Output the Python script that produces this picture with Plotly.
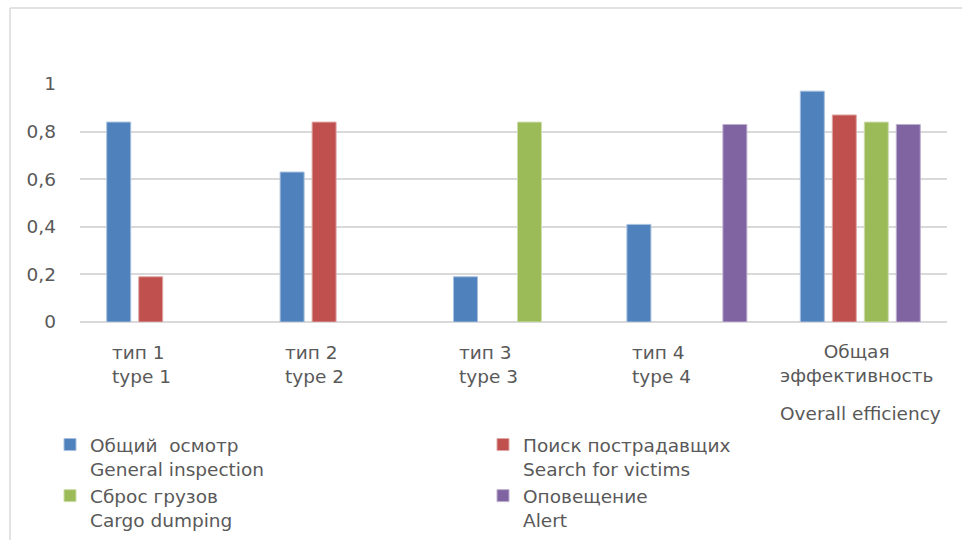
import plotly.graph_objects as go

categories = ["type 1", "type 2", "type 3", "type 4", "overall"]
cat_ru = ["тип 1", "тип 2", "тип 3", "тип 4", "Общая<br>эффективность"]
cat_en = ["type 1", "type 2", "type 3", "type 4", "Overall efficiency"]

series_names = [
    "Общий  осмотр<br>General inspection",
    "Поиск пострадавщих<br>Search for victims",
    "Сброс грузов<br>Cargo dumping",
    "Оповещение<br>Alert",
]
general = [0.84, 0.63, 0.19, 0.41, 0.97]
victims = [0.19, 0.84, None, None, 0.87]
cargo = [None, None, 0.84, None, 0.84]
alert = [None, None, None, 0.83, 0.83]
series_values = [general, victims, cargo, alert]
colors = ["#4F81BD", "#C0504D", "#9BBB59", "#8064A2"]
edges = ["#A7C0DE", "#DFA7A6", "#CDDDAC", "#BFB1D0"]

yticks = [0, 0.2, 0.4, 0.6, 0.8, 1]
yticktext = ["0", "0,2", "0,4", "0,6", "0,8", "1"]

FONT = "DejaVu Sans, sans-serif"
FS = 18.5
TXT = "#595959"

fig = go.Figure()
for name, vals, c, e in zip(series_names, series_values, colors, edges):
    fig.add_trace(go.Bar(x=categories, y=vals, name=name,
                         marker=dict(color=c, line=dict(color=e, width=1))))

# category labels
for i, cat in enumerate(categories):
    if i < 4:
        fig.add_annotation(x=cat, y=0, xref="x", yref="y", yanchor="top",
                           xanchor="left", xshift=-57, yshift=-18,
                           text=cat_ru[i] + "<br>" + cat_en[i], align="left",
                           showarrow=False, font=dict(family=FONT, size=FS, color=TXT))
    else:
        fig.add_annotation(x=cat, y=0, xref="x", yref="y", yanchor="top",
                           xanchor="center", xshift=-4, yshift=-17,
                           text=cat_ru[i], align="center",
                           showarrow=False, font=dict(family=FONT, size=FS, color=TXT))
        fig.add_annotation(x=cat, y=0, xref="x", yref="y", yanchor="top",
                           xanchor="center", yshift=-79,
                           text=cat_en[i], align="center",
                           showarrow=False, font=dict(family=FONT, size=FS, color=TXT))

# chart area border (left and top edges visible)
fig.add_shape(type="line", xref="paper", yref="paper", x0=-0.0807, x1=-0.0807,
              y0=1.319, y1=-1.0, line=dict(color="#D9D9D9", width=1.5))
fig.add_shape(type="line", xref="paper", yref="paper", x0=-0.0807, x1=1.05,
              y0=1.319, y1=1.319, line=dict(color="#D9D9D9", width=1.5))

fig.update_layout(
    width=962, height=540,
    margin=dict(l=80, r=15, t=84, b=218),
    paper_bgcolor="white", plot_bgcolor="white",
    barmode="group", bargap=0.262, bargroupgap=0.25,
    font=dict(family=FONT, size=FS, color=TXT),
    showlegend=True,
    legend=dict(orientation="h", xref="container", yref="container",
                x=50 / 962, xanchor="left", y=1 - 426 / 540, yanchor="top",
                entrywidth=388, entrywidthmode="pixels", valign="top",
                font=dict(family=FONT, size=FS, color=TXT),
                bgcolor="rgba(0,0,0,0)", traceorder="normal"),
)
fig.update_xaxes(showticklabels=False, showgrid=False, showline=False, zeroline=False,
                 categoryorder="array", categoryarray=categories)
fig.update_yaxes(range=[0, 1], tickvals=yticks, ticktext=yticktext,
                 showgrid=True, gridcolor="#D9D9D9", gridwidth=1.5,
                 zeroline=True, zerolinecolor="#D9D9D9", zerolinewidth=1.5,
                 showline=False, ticklabelstandoff=23,
                 tickfont=dict(family=FONT, size=FS, color=TXT))

fig.write_html("out.html")
